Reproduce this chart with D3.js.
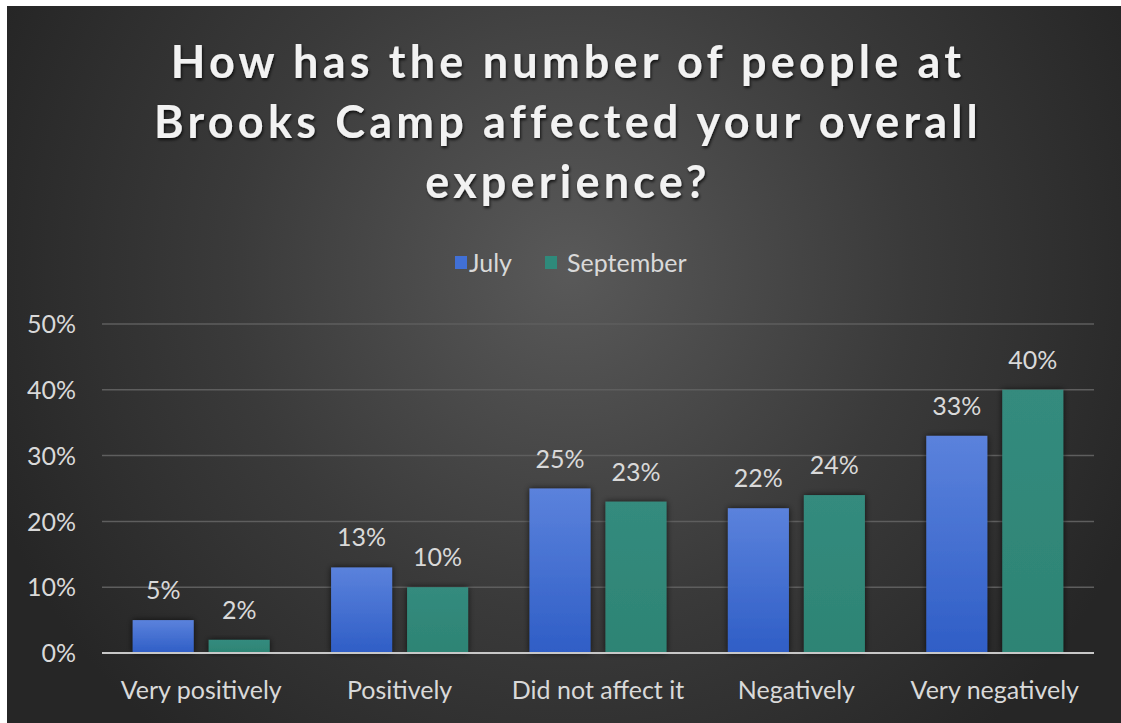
<!DOCTYPE html>
<html>
<head>
<meta charset="utf-8">
<script src="https://cdn.jsdelivr.net/npm/d3@7"></script>
<style>
  html, body { margin: 0; padding: 0; background: #ffffff; }
  svg { display: block; }
  text { font-family: Lato, "Open Sans", sans-serif; }
</style>
</head>
<body>
<script>
// Survey responses: share of visitors by reported effect on their experience
const categories = ["Very positively", "Positively", "Did not affect it", "Negatively", "Very negatively"];
const seriesNames = ["July", "September"];
const julyValues = [5, 13, 25, 22, 33];
const septemberValues = [2, 10, 23, 24, 40];
const yTicks = [0, 10, 20, 30, 40, 50];
const titleLines = ["How has the number of people at", "Brooks Camp affected your overall", "experience?"];

const W = 1121, H = 723;
const frame = { left: 7, top: 6 };
const plot = { left: 102, right: 1094, top: 324, bottom: 653 };
const labelSize = 25;

const svg = d3.select("body").append("svg").attr("width", W).attr("height", H);
const defs = svg.append("defs");

// Dark background with a soft light spot behind the title and legend
const bg = defs.append("radialGradient").attr("id", "bgGrad")
  .attr("gradientUnits", "userSpaceOnUse")
  .attr("cx", 570).attr("cy", 270).attr("r", 620);
bg.append("stop").attr("offset", 0).attr("stop-color", "#595959");
bg.append("stop").attr("offset", 0.55).attr("stop-color", "#3a3a3a");
bg.append("stop").attr("offset", 1).attr("stop-color", "#262626");

const blueGrad = defs.append("linearGradient").attr("id", "julyGrad")
  .attr("x1", 0).attr("y1", 0).attr("x2", 0).attr("y2", 1);
blueGrad.append("stop").attr("offset", 0).attr("stop-color", "#5b82dc");
blueGrad.append("stop").attr("offset", 1).attr("stop-color", "#2f5ec6");

const tealGrad = defs.append("linearGradient").attr("id", "sepGrad")
  .attr("x1", 0).attr("y1", 0).attr("x2", 0).attr("y2", 1);
tealGrad.append("stop").attr("offset", 0).attr("stop-color", "#348b7e");
tealGrad.append("stop").attr("offset", 1).attr("stop-color", "#2d8474");

const shadow = defs.append("filter").attr("id", "barShadow")
  .attr("x", "-30%").attr("y", "-30%").attr("width", "160%").attr("height", "160%");
shadow.append("feDropShadow").attr("dx", 0).attr("dy", 0).attr("stdDeviation", 3)
  .attr("flood-color", "#000").attr("flood-opacity", 0.7);

const textShadow = defs.append("filter").attr("id", "titleShadow")
  .attr("x", "-10%").attr("y", "-30%").attr("width", "120%").attr("height", "160%");
textShadow.append("feDropShadow").attr("dx", 1).attr("dy", 2).attr("stdDeviation", 1.5)
  .attr("flood-color", "#000").attr("flood-opacity", 0.75);

svg.append("rect").attr("x", frame.left).attr("y", frame.top)
  .attr("width", W - frame.left).attr("height", H - frame.top)
  .attr("fill", "url(#bgGrad)");

// Title
svg.append("g").attr("filter", "url(#titleShadow)")
  .selectAll("text").data(titleLines).join("text")
  .attr("x", 568).attr("y", (d, i) => 78 + i * 60)
  .attr("text-anchor", "middle")
  .attr("fill", "#f2f2f2")
  .attr("font-size", 45).attr("font-weight", 700)
  .attr("letter-spacing", 4.2)
  .text(d => d);

// Scales
const x0 = d3.scaleBand().domain(categories).range([plot.left, plot.right]).padding(0);
const groupWidth = 137;
const x1 = d3.scaleBand().domain(seriesNames)
  .range([(x0.bandwidth() - groupWidth) / 2, (x0.bandwidth() + groupWidth) / 2])
  .paddingInner(0.197).paddingOuter(0);
const y = d3.scaleLinear().domain([0, 50]).range([plot.bottom, plot.top]);
const colors = { July: "url(#julyGrad)", September: "url(#sepGrad)" };
const legendColors = { July: "#4170d6", September: "#2f8a7b" };

// Gridlines
svg.append("g").selectAll("line").data(yTicks.filter(t => t > 0)).join("line")
  .attr("x1", plot.left).attr("x2", plot.right)
  .attr("y1", d => y(d)).attr("y2", d => y(d))
  .attr("stroke", "#5e5e5e").attr("stroke-width", 1.5);

// Y axis labels
const yAxis = d3.axisLeft(y).tickValues(yTicks).tickFormat(d => d + "%").tickSize(0).tickPadding(26);
const yg = svg.append("g").attr("transform", `translate(${plot.left},0)`).call(yAxis);
yg.select(".domain").remove();
yg.selectAll("text").attr("fill", "#d9d9d9").attr("font-size", labelSize)
  .attr("font-family", "Lato, sans-serif").attr("dy", "0.35em");

// Bars
const rows = categories.map((c, i) => ({
  category: c,
  values: [
    { series: "July", value: julyValues[i] },
    { series: "September", value: septemberValues[i] }
  ]
}));

const groups = svg.append("g").selectAll("g").data(rows).join("g")
  .attr("transform", d => `translate(${x0(d.category)},0)`);

groups.selectAll("rect").data(d => d.values).join("rect")
  .attr("x", d => x1(d.series))
  .attr("width", x1.bandwidth())
  .attr("y", d => y(d.value))
  .attr("height", d => y(0) - y(d.value))
  .attr("fill", d => colors[d.series])
  .attr("filter", "url(#barShadow)");

groups.selectAll("text").data(d => d.values).join("text")
  .attr("x", d => x1(d.series) + x1.bandwidth() / 2)
  .attr("y", d => y(d.value) - 21)
  .attr("text-anchor", "middle")
  .attr("fill", "#d9d9d9")
  .attr("font-size", labelSize)
  .text(d => d.value + "%");

// Baseline
svg.append("line").attr("x1", plot.left).attr("x2", plot.right)
  .attr("y1", y(0)).attr("y2", y(0))
  .attr("stroke", "#c8c8c8").attr("stroke-width", 2);

// Category labels
const xAxis = d3.axisBottom(x0).tickSize(0).tickPadding(28);
const xg = svg.append("g").attr("transform", `translate(0,${plot.bottom})`).call(xAxis);
xg.select(".domain").remove();
xg.selectAll("text").attr("fill", "#d9d9d9").attr("font-size", labelSize)
  .attr("font-family", "Lato, sans-serif");

// Legend
const legendItems = [
  { name: "July", sx: 455, tx: 469 },
  { name: "September", sx: 545, tx: 567 }
];
const lg = svg.append("g");
lg.selectAll("rect").data(legendItems).join("rect")
  .attr("x", d => d.sx).attr("y", 256).attr("width", 12).attr("height", 13)
  .attr("fill", d => legendColors[d.name]);
lg.selectAll("text").data(legendItems).join("text")
  .attr("x", d => d.tx).attr("y", 272)
  .attr("fill", "#d9d9d9").attr("font-size", labelSize)
  .text(d => d.name);
</script>
</body>
</html>
